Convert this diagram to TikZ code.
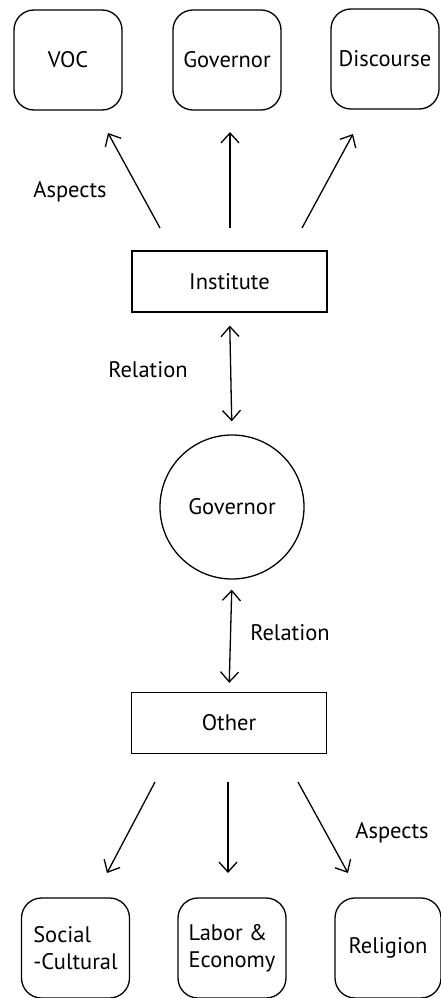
\documentclass[tikz,border=0pt]{standalone}
\usepackage{fontspec}
\setmainfont{PT Sans}
\usetikzlibrary{arrows.meta}

\tikzstyle{aspect}=[draw,line width=1.3pt,rounded corners=20pt,minimum width=108pt,minimum height=100pt,inner sep=2pt,align=left,font=\fontsize{22.5}{27}\selectfont]
\tikzstyle{frame}=[draw,line width=1.3pt,minimum width=195pt,minimum height=61pt,font=\fontsize{22.5}{27}\selectfont]
\tikzstyle{centre}=[draw,line width=1.3pt,circle,minimum size=144pt,font=\fontsize{22.5}{27}\selectfont]
\tikzstyle{tag}=[font=\fontsize{22.5}{27}\selectfont]
\tikzstyle{arr}=[line width=1.3pt,-{Straight Barb[length=10pt,width=18pt]}]
\tikzstyle{arrboth}=[line width=1.3pt,{Straight Barb[length=10pt,width=18pt]}-{Straight Barb[length=10pt,width=18pt]}]

\begin{document}
\begin{tikzpicture}[x=1pt,y=-1pt]
  \useasboundingbox (0,0) rectangle (441,998);

  \node (voc)[aspect] at (68,60) {VOC};
  \node (govt)[aspect] at (227,60) {Governor};
  \node (disc)[aspect] at (385,59) {Discourse};
  \node (inst)[frame] at (229.5,281.5) {Institute};
  \node (gov)[centre] at (232,507) {Governor};
  \node (other)[frame] at (229,723) {Other};
  \node (soc)[aspect] at (75.5,948) {Social\\-Cultural};
  \node (lab)[aspect] at (232,948) {Labor \&\\Economy};
  \node (rel)[aspect,minimum width=106pt] at (388,948) {Religion};

  \node (asp1)[tag] at (70,192) {Aspects};
  \node (rel1)[tag] at (148,370) {Relation};
  \node (rel2)[tag] at (290,633) {Relation};
  \node (asp2)[tag] at (392,833) {Aspects};

  % upper fan
  \coordinate (u1) at (160,228);
  \coordinate (u2) at (230,228);
  \coordinate (u3) at (302,228);
  \coordinate (v1) at (108,133);
  \coordinate (v2) at (230,132);
  \coordinate (v3) at (353,134);
  % lower fan
  \coordinate (l1) at (155,782);
  \coordinate (l2) at (228,782);
  \coordinate (l3) at (298,782);
  \coordinate (m1) at (107,873);
  \coordinate (m2) at (228,873);
  \coordinate (m3) at (348,873);

    \foreach \i in {1, ..., 3}{
        \draw[arr] (u\i) -- (v\i);
        \draw[arr] (l\i) -- (m\i);
    }

    \draw[arrboth,shorten <=13pt,shorten >=13pt] (inst.south) -- (gov.north);
    \draw[arrboth,shorten <=10pt,shorten >=9pt] (gov.south) -- (other.north);
\end{tikzpicture}
\end{document}
